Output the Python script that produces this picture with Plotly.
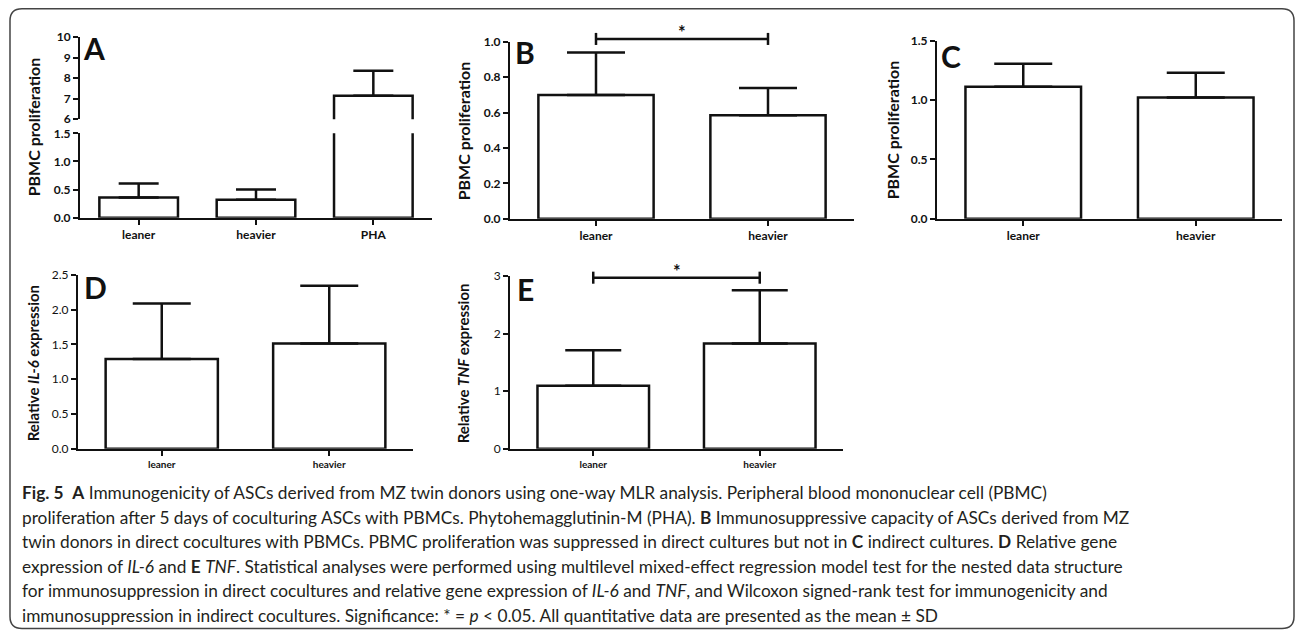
import plotly.graph_objects as go

W = 1298
HF = 650          # figure height (px)
OFF, SC = 8.2, 0.9727   # observed vertical mapping of the capture: screen = OFF + SC*doc

# ---------------- data ----------------
cats_A = ["leaner", "heavier", "PHA"]
mean_A = [0.36, 0.32, 7.14]
sd_A = [0.25, 0.18, 1.22]

cats_B = ["leaner", "heavier"]
mean_B = [0.70, 0.585]
sd_B = [0.24, 0.155]

cats_C = ["leaner", "heavier"]
mean_C = [1.113, 1.023]
sd_C = [0.194, 0.208]

cats_D = ["leaner", "heavier"]
mean_D = [1.29, 1.515]
sd_D = [0.80, 0.83]

cats_E = ["leaner", "heavier"]
mean_E = [1.094, 1.827]
sd_E = [0.616, 0.923]

sig_B = ("leaner", "heavier", 1.017)
sig_E = ("leaner", "heavier", 2.97)

caption_lines = [
    "<b>Fig. 5</b>\u2002<b>A</b> Immunogenicity of ASCs derived from MZ twin donors using one-way MLR analysis. Peripheral blood mononuclear cell (PBMC)",
    "proliferation after 5 days of coculturing ASCs with PBMCs. Phytohemagglutinin-M (PHA). <b>B</b> Immunosuppressive capacity of ASCs derived from MZ",
    "twin donors in direct cocultures with PBMCs. PBMC proliferation was suppressed in direct cultures but not in <b>C</b> indirect cultures. <b>D</b> Relative gene",
    "expression of <i>IL-6</i> and <b>E</b> <i>TNF</i>. Statistical analyses were performed using multilevel mixed-effect regression model test for the nested data structure",
    "for immunosuppression in direct cocultures and relative gene expression of <i>IL-6</i> and <i>TNF</i>, and Wilcoxon signed-rank test for immunogenicity and",
    "immunosuppression in indirect cocultures. Significance: * = <i>p</i> &lt; 0.05. All quantitative data are presented as the mean \u00b1 SD",
]

# ---------------- geometry helpers ----------------
def px(x):
    return x / W

def py(y):
    # y given in target-picture pixels
    doc = (y - OFF) / SC
    return 1 - doc / HF

FONT = "Lato"
BLACK = "#111111"

fig = go.Figure()

def add_bars(cats, means, sds, xa, ya, capw):
    n = len(cats)
    fig.add_trace(go.Bar(
        x=cats, y=means, width=0.67,
        marker=dict(color="white", line=dict(color=BLACK, width=2.5)),
        error_y=dict(type="data", array=sds, arrayminus=[0] * n, symmetric=False,
                     thickness=2.5, width=capw, color=BLACK),
        xaxis=xa, yaxis=ya, showlegend=False, hoverinfo="skip",
    ))

add_bars(cats_A, mean_A, sd_A, "x", "y", 20)
add_bars(cats_A, mean_A, sd_A, "x", "y2", 20)
add_bars(cats_B, mean_B, sd_B, "x2", "y3", 29)
add_bars(cats_C, mean_C, sd_C, "x3", "y4", 29)
add_bars(cats_D, mean_D, sd_D, "x4", "y5", 29)
add_bars(cats_E, mean_E, sd_E, "x5", "y6", 28)

# panel pixel boxes: (x0, x1, ytop, ybottom)
panels = {
    "A_lo": (80, 432, 133, 217),
    "A_hi": (80, 432, 37, 119),
    "B": (510, 854, 42, 218),
    "C": (937, 1282, 41, 218),
    "D": (78, 413, 274, 447),
    "E": (510, 843, 275, 447),
}

def xax(box, anchor, ncat, tsize, bold=True):
    x0, x1, _, _ = box
    return dict(domain=[px(x0), px(x1)], anchor=anchor, type="category",
                range=[-0.5, ncat - 0.5], showline=True, linecolor=BLACK, linewidth=2,
                ticks="outside", ticklen=5, tickwidth=2, tickcolor=BLACK,
                showgrid=False, zeroline=False,
                tickfont=dict(family=FONT, size=tsize, color=BLACK,
                              weight="bold" if bold else "normal"))

def yax(box, anchor, rng, dtick, fmt, bold=True):
    _, _, yt, yb = box
    return dict(domain=[py(yb), py(yt)], anchor=anchor, range=rng, dtick=dtick,
                tick0=rng[0], tickformat=fmt,
                showline=True, linecolor=BLACK, linewidth=2,
                ticks="outside", ticklen=5, tickwidth=2, tickcolor=BLACK,
                showgrid=False, zeroline=False,
                tickfont=dict(family=FONT, size=12, color=BLACK,
                              weight="bold" if bold else "normal"))

fig.update_layout(
    width=W, height=HF, margin=dict(l=0, r=0, t=0, b=0),
    paper_bgcolor="white", plot_bgcolor="white", showlegend=False,
    xaxis=xax(panels["A_lo"], "y", 3, 12),
    yaxis=yax(panels["A_lo"], "x", [0, 1.5], 0.5, ".1f"),
    yaxis2=yax(panels["A_hi"], "x", [6, 10], 1, "d"),
    xaxis2=xax(panels["B"], "y3", 2, 12),
    yaxis3=yax(panels["B"], "x2", [0, 1.0], 0.2, ".1f"),
    xaxis3=xax(panels["C"], "y4", 2, 12),
    yaxis4=yax(panels["C"], "x3", [0, 1.5], 0.5, ".1f"),
    xaxis4=xax(panels["D"], "y5", 2, 10),
    yaxis5=yax(panels["D"], "x4", [0, 2.5], 0.5, ".1f", bold=False),
    xaxis5=xax(panels["E"], "y6", 2, 10),
    yaxis6=yax(panels["E"], "x5", [0, 3], 1, "d", bold=False),
)

shapes = []
annotations = []

# significance brackets
def bracket(box, cats, rng, sig):
    x0, x1, yt, yb = box
    n = len(cats)
    def cx(c):
        i = cats.index(c)
        return x0 + (i + 0.5) / n * (x1 - x0)
    def vy(v):
        return yb - (v - rng[0]) / (rng[1] - rng[0]) * (yb - yt)
    a, b, v = sig
    xa_, xb_, yv = cx(a), cx(b), vy(v)
    line = dict(color=BLACK, width=2.5)
    shapes.append(dict(type="line", xref="paper", yref="paper",
                       x0=px(xa_), x1=px(xb_), y0=py(yv), y1=py(yv), line=line))
    for xx in (xa_, xb_):
        shapes.append(dict(type="line", xref="paper", yref="paper",
                           x0=px(xx), x1=px(xx), y0=py(yv - 6), y1=py(yv + 6), line=line))
    annotations.append(dict(text="*", xref="paper", yref="paper",
                            x=px((xa_ + xb_) / 2), y=py(yv + 6), yanchor="bottom",
                            showarrow=False,
                            font=dict(family=FONT, size=18, color=BLACK, weight="bold")))

bracket(panels["B"], cats_B, [0, 1.0], sig_B)
bracket(panels["E"], cats_E, [0, 3], sig_E)

# panel letters
for letter, (lx, ly) in {"A": (94, 48), "B": (525, 52), "C": (951, 56),
                         "D": (95, 286), "E": (525, 288)}.items():
    annotations.append(dict(text=letter, xref="paper", yref="paper", x=px(lx), y=py(ly),
                            xanchor="center", yanchor="middle", showarrow=False,
                            font=dict(family=FONT, size=30, color=BLACK, weight="bold")))

# y-axis titles
for txt, (tx, ty, fs) in {
    "PBMC proliferation": (33, 127, 16),
    "PBMC proliferation ": (463, 131, 16),
    "PBMC proliferation  ": (892, 130, 16),
    "Relative <i>IL-6</i> expression": (33, 362, 15),
    "Relative <i>TNF</i> expression": (463, 362, 15),
}.items():
    annotations.append(dict(text=txt.strip(), xref="paper", yref="paper", x=px(tx), y=py(ty),
                            xanchor="center", yanchor="middle", textangle=-90, showarrow=False,
                            font=dict(family=FONT, size=fs, color=BLACK, weight="bold")))

# caption
for i, line in enumerate(caption_lines):
    annotations.append(dict(text=line, xref="paper", yref="paper", x=px(20), y=py(491 + 24.4 * i),
                            xanchor="left", yanchor="middle", showarrow=False, align="left",
                            font=dict(family=FONT, size=17.3, color="#231f20")))

# rounded outer frame (bottom kept inside the captured area)
bx0, bx1, by0, by1, r = 10, 1294, 9, 626, 12
pts = [
    ("M", (bx0 + r, by0)), ("L", (bx1 - r, by0)), ("Q", (bx1, by0), (bx1, by0 + r)),
    ("L", (bx1, by1 - r)), ("Q", (bx1, by1), (bx1 - r, by1)),
    ("L", (bx0 + r, by1)), ("Q", (bx0, by1), (bx0, by1 - r)),
    ("L", (bx0, by0 + r)), ("Q", (bx0, by0), (bx0 + r, by0)),
]
path = ""
for seg in pts:
    cmd = seg[0]
    coords = " ".join(f"{px(p[0]):.5f},{py(p[1]):.5f}" for p in seg[1:])
    path += f"{cmd} {coords} "
path += "Z"
shapes.append(dict(type="path", xref="paper", yref="paper", path=path,
                   line=dict(color="#444444", width=1.5)))

fig.update_layout(shapes=shapes, annotations=annotations)

page_fix = (
    "document.documentElement.style.margin='0';"
    "document.body.style.margin='0';document.body.style.padding='0';"
    "document.body.style.overflow='hidden';"
)
fig.write_html("out.html", config={"displayModeBar": False}, post_script=page_fix)
